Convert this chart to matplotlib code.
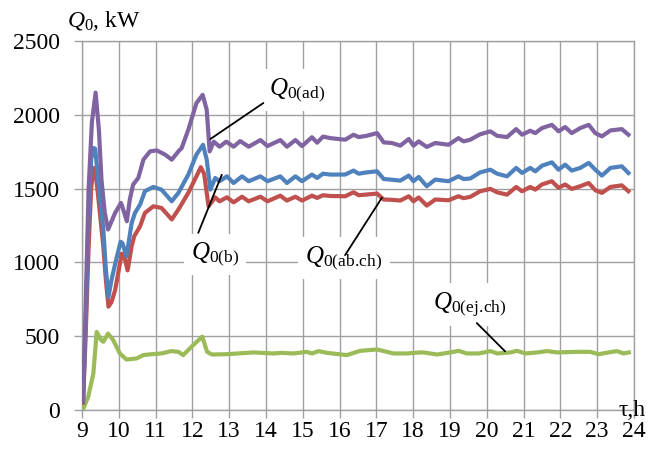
import matplotlib
matplotlib.use('Agg')
import matplotlib.pyplot as plt

plt.rcParams['font.family'] = ['Liberation Serif', 'DejaVu Serif']
plt.rcParams['mathtext.fontset'] = 'custom'
plt.rcParams['mathtext.rm'] = 'Liberation Serif'
plt.rcParams['mathtext.it'] = 'Liberation Serif:style=italic'

# --- datos ---
t_ad = [9.03, 9.10, 9.18, 9.27, 9.37, 9.46, 9.53, 9.62, 9.71, 9.90, 10.06, 10.15, 10.22,
        10.30, 10.39, 10.53, 10.67, 10.85, 11.03, 11.26, 11.44, 11.62, 11.71, 11.89, 12.11,
        12.28, 12.39, 12.47, 12.58, 12.74, 12.92, 13.12, 13.30, 13.53, 13.85, 14.04, 14.39,
        14.57, 14.80, 14.98, 15.25, 15.39, 15.55, 15.75, 16.15, 16.38, 16.52, 16.74, 17.02,
        17.20, 17.42, 17.65, 17.88, 18.01, 18.15, 18.37, 18.60, 18.96, 19.23, 19.37, 19.55,
        19.82, 20.10, 20.28, 20.55, 20.80, 20.96, 21.18, 21.32, 21.50, 21.77, 21.95, 22.13,
        22.31, 22.54, 22.77, 22.95, 23.13, 23.36, 23.67, 23.85]
q_ad = [60, 700, 1500, 1950, 2150, 1899, 1561, 1336, 1223, 1335, 1403, 1336, 1279,
        1426, 1527, 1572, 1696, 1752, 1759, 1730, 1696, 1752, 1775, 1899, 2079,
        2135, 2034, 1752, 1818, 1784, 1818, 1784, 1822, 1784, 1829, 1788, 1829,
        1784, 1829, 1788, 1848, 1811, 1852, 1842, 1831, 1865, 1849, 1858, 1876,
        1813, 1809, 1791, 1836, 1791, 1820, 1782, 1809, 1797, 1842, 1820, 1831,
        1868, 1888, 1858, 1849, 1903, 1865, 1892, 1876, 1910, 1932, 1888, 1917,
        1876, 1910, 1932, 1876, 1854, 1894, 1903, 1865]

t_b = [9.03, 9.10, 9.18, 9.25, 9.31, 9.36, 9.44, 9.58, 9.65, 9.72, 9.80, 9.93, 10.05,
       10.10, 10.21, 10.35, 10.44, 10.58, 10.71, 10.94, 11.16, 11.44, 11.62, 11.89, 12.11,
       12.29, 12.39, 12.49, 12.62, 12.74, 12.94, 13.12, 13.35, 13.53, 13.85, 14.04, 14.39,
       14.57, 14.80, 14.98, 15.25, 15.39, 15.55, 15.75, 16.15, 16.38, 16.52, 16.74, 17.02,
       17.20, 17.42, 17.65, 17.88, 18.01, 18.15, 18.37, 18.60, 18.96, 19.23, 19.37, 19.55,
       19.82, 20.10, 20.28, 20.55, 20.80, 20.96, 21.18, 21.32, 21.50, 21.77, 21.95, 22.13,
       22.31, 22.54, 22.77, 22.95, 23.13, 23.36, 23.67, 23.85]
q_b = [60, 600, 1300, 1700, 1775, 1770, 1561, 1223, 950, 766, 878, 1020, 1140,
       1130, 1041, 1267, 1335, 1392, 1482, 1511, 1493, 1414, 1471, 1595, 1730,
       1797, 1696, 1493, 1572, 1550, 1583, 1538, 1583, 1550, 1583, 1550, 1583,
       1538, 1583, 1550, 1595, 1572, 1601, 1595, 1595, 1622, 1601, 1610, 1617,
       1565, 1560, 1554, 1588, 1550, 1579, 1516, 1561, 1550, 1583, 1565, 1568,
       1610, 1628, 1601, 1583, 1640, 1606, 1640, 1617, 1655, 1678, 1628, 1662,
       1622, 1640, 1674, 1628, 1588, 1640, 1651, 1606]

t_abch = [9.03, 9.10, 9.18, 9.25, 9.31, 9.36, 9.44, 9.58, 9.65, 9.72, 9.80, 9.90, 10.08,
          10.15, 10.24, 10.35, 10.42, 10.58, 10.71, 10.94, 11.16, 11.44, 11.62, 11.89, 12.11,
          12.23, 12.32, 12.44, 12.62, 12.74, 12.94, 13.12, 13.35, 13.53, 13.85, 14.04, 14.39,
          14.57, 14.80, 14.98, 15.25, 15.39, 15.55, 15.75, 16.15, 16.38, 16.52, 16.74, 17.02,
          17.20, 17.42, 17.65, 17.88, 18.01, 18.15, 18.37, 18.60, 18.96, 19.23, 19.37, 19.55,
          19.82, 20.10, 20.28, 20.55, 20.80, 20.96, 21.18, 21.32, 21.50, 21.77, 21.95, 22.13,
          22.31, 22.54, 22.77, 22.95, 23.13, 23.36, 23.67, 23.85]
q_abch = [50, 500, 1100, 1500, 1640, 1630, 1448, 1110, 880, 700, 730, 811, 1059,
          1040, 946, 1110, 1177, 1245, 1335, 1380, 1369, 1291, 1358, 1471, 1583,
          1645, 1600, 1380, 1441, 1414, 1441, 1407, 1445, 1414, 1445, 1414, 1452,
          1419, 1445, 1419, 1452, 1437, 1455, 1450, 1448, 1475, 1455, 1460, 1466,
          1426, 1424, 1419, 1448, 1414, 1440, 1385, 1426, 1421, 1448, 1435, 1444,
          1482, 1498, 1475, 1459, 1511, 1482, 1511, 1493, 1528, 1550, 1505, 1528,
          1498, 1516, 1538, 1489, 1471, 1511, 1522, 1482]

t_ejch = [9.03, 9.17, 9.31, 9.40, 9.52, 9.58, 9.71, 9.85, 10.03, 10.21, 10.48, 10.67, 10.89,
          11.16, 11.43, 11.62, 11.75, 12.02, 12.27, 12.40, 12.53, 12.94, 13.66, 14.20, 14.43,
          14.75, 15.11, 15.25, 15.43, 15.66, 16.20, 16.56, 17.02, 17.47, 17.83, 18.19, 18.28,
          18.65, 19.01, 19.23, 19.46, 19.78, 20.10, 20.28, 20.64, 20.82, 21.05, 21.37, 21.64,
          21.91, 22.45, 22.81, 23.04, 23.31, 23.54, 23.72, 23.86]
q_ejch = [5, 90, 248, 529, 473, 462, 518, 473, 383, 342, 349, 372, 378,
          383, 399, 394, 372, 439, 497, 394, 376, 378, 390, 383, 387,
          383, 394, 383, 399, 387, 372, 401, 410, 383, 383, 390, 390,
          376, 390, 401, 383, 383, 399, 383, 390, 401, 383, 390, 399,
          390, 394, 394, 378, 390, 399, 383, 390]

x_ticks = list(range(9, 25))
y_ticks = [0, 500, 1000, 1500, 2000, 2500]

fig = plt.figure(figsize=(6.49, 4.5), dpi=100)
ax = fig.add_axes([0.1263, 0.0889, 0.8505, 0.82])

gris = '#a0a0a0'
ax.set_xlim(9, 24)
ax.set_ylim(0, 2500)
ax.set_xticks(x_ticks)
ax.set_yticks(y_ticks)
ax.grid(True, color=gris, linewidth=1)
ax.set_axisbelow(True)
for s in ax.spines.values():
    s.set_color(gris)
    s.set_linewidth(1)
ax.tick_params(axis='both', colors=gris, labelcolor='black', labelsize=17, length=6, width=1)
ax.tick_params(axis='y', pad=10)
ax.tick_params(axis='x', pad=2)

ax.plot(t_ejch, q_ejch, color='#9BBB59', lw=3, solid_joinstyle='round', zorder=3)
ax.plot(t_abch, q_abch, color='#C0504D', lw=3, solid_joinstyle='round', zorder=4)
ax.plot(t_b, q_b, color='#4F81BD', lw=3, solid_joinstyle='round', zorder=5)
ax.plot(t_ad, q_ad, color='#8064A2', lw=3, solid_joinstyle='round', zorder=6)

# --- etiquetas con lineas guia ---
caja = dict(facecolor='white', edgecolor='none', pad=5)
etiquetas = [
    (r'$Q_{\mathrm{0(ad)}}$', (14.07, 2170), (12.49, 1836), (13.93, 2080)),
    (r'$Q_{\mathrm{0(b)}}$', (11.95, 1054), (12.80, 1594), (12.16, 1200)),
    (r'$Q_{\mathrm{0(ab.\!ch)}}$', (15.07, 1031), (17.15, 1438), (16.15, 1049)),
    (r'$Q_{\mathrm{0(ej.\!ch)}}$', (18.55, 714), (20.50, 397), (19.73, 589)),
]
for txt, pos, p0, p1 in etiquetas:
    ax.text(pos[0], pos[1], txt, fontsize=18, ha='left', va='center', bbox=caja, zorder=7)
    ax.annotate('', xy=p0, xytext=p1,
                arrowprops=dict(arrowstyle='-', color='black', lw=1.3, shrinkA=0, shrinkB=0),
                zorder=8)

ax.text(8.6, 2635, r'$Q_0$, kW', fontsize=17, ha='left', va='center', clip_on=False)
ax.text(23.96, -5, 'τ,h', fontsize=17, ha='center', va='center', clip_on=False)

fig.savefig('out.png', dpi=100)
